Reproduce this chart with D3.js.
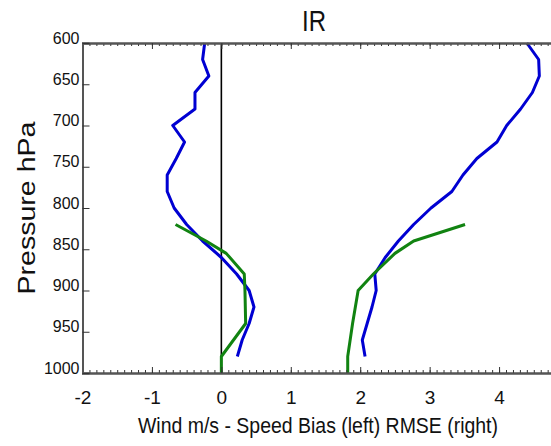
<!DOCTYPE html>
<html>
<head>
<meta charset="utf-8">
<script src="https://cdn.jsdelivr.net/npm/d3@7"></script>
<style>
  body { margin: 0; background: #fff; }
  svg { display: block; font-family: "Liberation Sans", Arial, sans-serif; }
</style>
</head>
<body>
<div id="chart"></div>
<script>
// Data
var blue_levels   = [600, 620, 640, 660, 680, 700, 720, 740, 760, 780, 800, 820, 840, 860, 880, 900, 920, 940, 960, 980];
var blue_bias     = [-0.24, -0.27, -0.18, -0.38, -0.38, -0.70, -0.53, -0.65, -0.78, -0.78, -0.68, -0.50, -0.27, 0.0, 0.22, 0.40, 0.47, 0.40, 0.30, 0.23];
var blue_rmse     = [4.40, 4.57, 4.58, 4.48, 4.31, 4.11, 3.97, 3.68, 3.48, 3.32, 3.02, 2.77, 2.55, 2.36, 2.21, 2.23, 2.17, 2.10, 2.03, 2.07];
var green_levels  = [820, 840, 855, 880, 900, 940, 980, 1000];
var green_bias    = [-0.66, -0.22, 0.07, 0.33, 0.34, 0.35, 0.0, 0.0];
var green_rmse    = [3.51, 2.77, 2.50, 2.19, 1.97, 1.89, 1.82, 1.82];
var x_ticks       = [-2, -1, 0, 1, 2, 3, 4];
var y_ticks       = [600, 650, 700, 750, 800, 850, 900, 950, 1000];

var chart_width   = 551;
var chart_height  = 446;
var blue          = "#0000d2";
var green         = "#118311";
var axis_col      = "#555";

// Scales
var x_scale = d3.scaleLinear().domain([-2, 5]).range([82.5, 568.5]);
var y_scale = d3.scaleLinear().domain([600, 1000]).range([43, 373]);

var svg = d3.select("#chart")
    .append("svg")
    .attr("width", chart_width)
    .attr("height", chart_height);

svg.append("rect")
    .attr("width", chart_width)
    .attr("height", chart_height)
    .attr("fill", "#fff");

// zero line
svg.append("line")
    .attr("x1", x_scale(0)).attr("x2", x_scale(0))
    .attr("y1", y_scale(600)).attr("y2", y_scale(1000))
    .attr("stroke", "#000")
    .attr("stroke-width", 1.6);

// Lines
function profile(levels, values) {
    return levels.map(function(p, i) { return { p: p, v: values[i] }; });
}
var line = d3.line()
    .x(function(d) { return x_scale(d.v); })
    .y(function(d) { return y_scale(d.p); });

var series = [
    { data: profile(blue_levels, blue_bias), color: blue },
    { data: profile(blue_levels, blue_rmse), color: blue },
    { data: profile(green_levels, green_bias), color: green },
    { data: profile(green_levels, green_rmse), color: green }
];
svg.selectAll("path.profile")
    .data(series)
    .enter()
    .append("path")
    .attr("class", "profile")
    .attr("d", function(s) { return line(s.data); })
    .attr("fill", "none")
    .attr("stroke", function(s) { return s.color; })
    .attr("stroke-width", 3)
    .attr("stroke-linejoin", "round");

// Axes
var minor_ticks = d3.range(-20, 51).map(function(i) { return i / 10; });
var hyphen_fmt  = function(d) { return String(d); };

function styleAxis(g) {
    g.select(".domain").attr("stroke", axis_col).attr("stroke-width", 2);
    g.selectAll(".tick line").attr("stroke", "#333").attr("stroke-width", 1);
}

// top
svg.append("g")
    .attr("transform", "translate(0," + y_scale(600) + ")")
    .call(d3.axisTop(x_scale).tickValues(minor_ticks).tickSize(-3).tickFormat(""))
    .call(styleAxis);
svg.append("g")
    .attr("transform", "translate(0," + y_scale(600) + ")")
    .call(d3.axisTop(x_scale).tickValues(x_ticks).tickSize(-6).tickFormat(""))
    .call(styleAxis);

// bottom
svg.append("g")
    .attr("transform", "translate(0," + y_scale(1000) + ")")
    .call(d3.axisBottom(x_scale).tickValues(minor_ticks).tickSize(-3).tickFormat(""))
    .call(styleAxis);
var x_axis = svg.append("g")
    .attr("transform", "translate(0," + y_scale(1000) + ")")
    .call(d3.axisBottom(x_scale).tickValues(x_ticks).tickSize(-6).tickPadding(18).tickFormat(hyphen_fmt))
    .call(styleAxis);
x_axis.selectAll(".tick text")
    .attr("font-size", 19)
    .attr("fill", "#111")
    .attr("font-family", "Liberation Sans, Arial, sans-serif");

// left
var y_axis = svg.append("g")
    .attr("transform", "translate(" + x_scale(-2) + ",0)")
    .call(d3.axisLeft(y_scale).tickValues(y_ticks).tickSize(-7).tickPadding(3).tickFormat(hyphen_fmt))
    .call(styleAxis);
y_axis.selectAll(".tick text")
    .attr("font-size", 16)
    .attr("fill", "#111")
    .attr("dy", "0")
    .attr("font-family", "Liberation Sans, Arial, sans-serif");

// Titles
svg.append("text")
    .attr("x", 314)
    .attr("y", 31)
    .attr("text-anchor", "middle")
    .attr("font-size", 29)
    .attr("textLength", 24)
    .attr("lengthAdjust", "spacingAndGlyphs")
    .attr("fill", "#111")
    .text("IR");

svg.append("text")
    .attr("x", 318)
    .attr("y", 433)
    .attr("text-anchor", "middle")
    .attr("font-size", 22)
    .attr("textLength", 360)
    .attr("lengthAdjust", "spacingAndGlyphs")
    .attr("fill", "#111")
    .text("Wind m/s - Speed Bias (left) RMSE (right)");

svg.append("text")
    .attr("transform", "translate(35,208) rotate(-90)")
    .attr("text-anchor", "middle")
    .attr("font-size", 23)
    .attr("textLength", 173)
    .attr("lengthAdjust", "spacingAndGlyphs")
    .attr("fill", "#111")
    .text("Pressure hPa");
</script>
</body>
</html>
